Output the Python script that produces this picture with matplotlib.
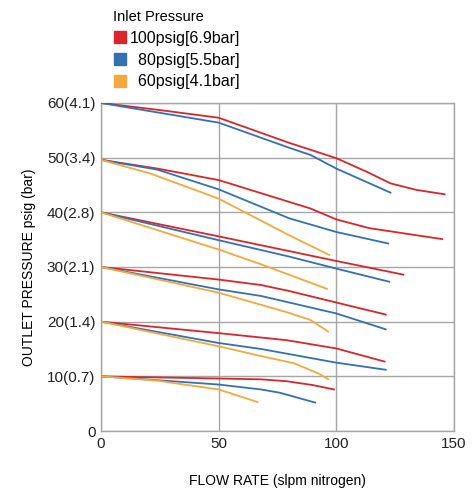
import matplotlib.pyplot as plt
from matplotlib.lines import Line2D

plt.rcParams['font.family'] = ['Liberation Sans', 'DejaVu Sans']

## data, one curve per outlet set point
red_x = [[0, 25, 50, 80, 100, 113, 123, 134, 146],
         [0, 24, 50, 80, 89, 100, 114, 145],
         [0, 50, 80, 100, 128.5],
         [0, 50, 68, 80, 100, 121],
         [0, 50, 68, 79, 100, 120.5],
         [0, 24, 50, 68, 79, 90, 99]]
red_y = [[60, 58.7, 57.3, 52.7, 49.9, 47.4, 45.3, 44.1, 43.3],
         [49.6, 48.0, 45.9, 41.9, 40.7, 38.7, 37.1, 35.1],
         [40, 35.6, 32.9, 31.1, 28.6],
         [30, 27.7, 26.7, 25.6, 23.5, 21.3],
         [20, 17.9, 17.1, 16.6, 15.1, 12.7],
         [10, 9.8, 9.6, 9.45, 9.1, 8.4, 7.6]]

blue_x = [[0, 25, 50, 80, 89, 100, 123],
          [0, 24, 50, 80, 100, 122],
          [0, 50, 80, 100, 122.5],
          [0, 50, 68, 100, 121],
          [0, 50, 68, 100, 121],
          [0, 24, 50, 68, 76, 91]]
blue_y = [[60, 58.2, 56.4, 51.8, 50.5, 48.0, 43.6],
          [49.6, 47.8, 44.2, 38.9, 36.4, 34.3],
          [40, 34.9, 31.9, 29.7, 27.3],
          [30, 25.9, 24.7, 21.5, 18.6],
          [20, 16.1, 15.0, 12.5, 11.2],
          [10, 9.3, 8.5, 7.6, 7.0, 5.2]]

orange_x = [[0, 21, 50, 80, 97],
            [0, 50, 68, 96],
            [0, 50, 80, 89, 96.5],
            [0, 50, 68, 82, 92.5, 96.5],
            [0, 24, 50, 66.5]]
orange_y = [[49.6, 47.1, 42.5, 35.8, 32.2],
            [40, 33.2, 30.5, 26.0],
            [30, 25.3, 21.6, 20.3, 18.2],
            [20, 15.5, 13.7, 12.4, 10.5, 9.5],
            [10, 9.2, 7.6, 5.3]]

y_ticks = [0, 10, 20, 30, 40, 50, 60]
y_labels = ['0', '10(0.7)', '20(1.4)', '30(2.1)', '40(2.8)', '50(3.4)', '60(4.1)']
x_ticks = [0, 50, 100, 150]
series_labels = ['100psig[6.9bar]', '  80psig[5.5bar]', '  60psig[4.1bar]']

RED = '#dc252b'
BLUE = '#3471b3'
ORANGE = '#f5a93c'
GRID = '#a6a6a6'

fig = plt.figure(figsize=(4.75, 4.88), dpi=100)
ax = fig.add_axes([0.2126, 0.1168, 0.7432, 0.6722])

for xs, ys in zip(red_x, red_y):
    ax.plot(xs, ys, color=RED, lw=1.3, zorder=3)
for xs, ys in zip(blue_x, blue_y):
    ax.plot(xs, ys, color=BLUE, lw=1.3, zorder=3)
for xs, ys in zip(orange_x, orange_y):
    ax.plot(xs, ys, color=ORANGE, lw=1.3, zorder=3)

ax.set_xlim(0, 150)
ax.set_ylim(0, 60)
ax.set_xticks(x_ticks)
ax.set_yticks(y_ticks)
ax.set_yticklabels(y_labels)
ax.tick_params(length=0, labelsize=11, colors='#222222', pad=4)
ax.grid(True, color=GRID, lw=1)
for s in ax.spines.values():
    s.set_color(GRID)
    s.set_linewidth(1)

ax.set_xlabel('FLOW RATE (slpm nitrogen)', fontsize=10, labelpad=17)
ax.set_ylabel('OUTLET PRESSURE psig (bar)', fontsize=10, labelpad=8)

## legend
handles = [Line2D([], [], ls='none', marker='s', markersize=8.5, color=c)
           for c in [RED, BLUE, ORANGE]]
leg = fig.legend(handles, series_labels, title='Inlet Pressure',
                 loc='upper left', bbox_to_anchor=(0.212, 1.005),
                 frameon=False, fontsize=11.5, title_fontsize=10.5,
                 handlelength=0.8, handletextpad=0.2, labelspacing=0.42,
                 borderpad=0.3)
leg._legend_box.align = 'left'

fig.savefig('out.png', dpi=100)
